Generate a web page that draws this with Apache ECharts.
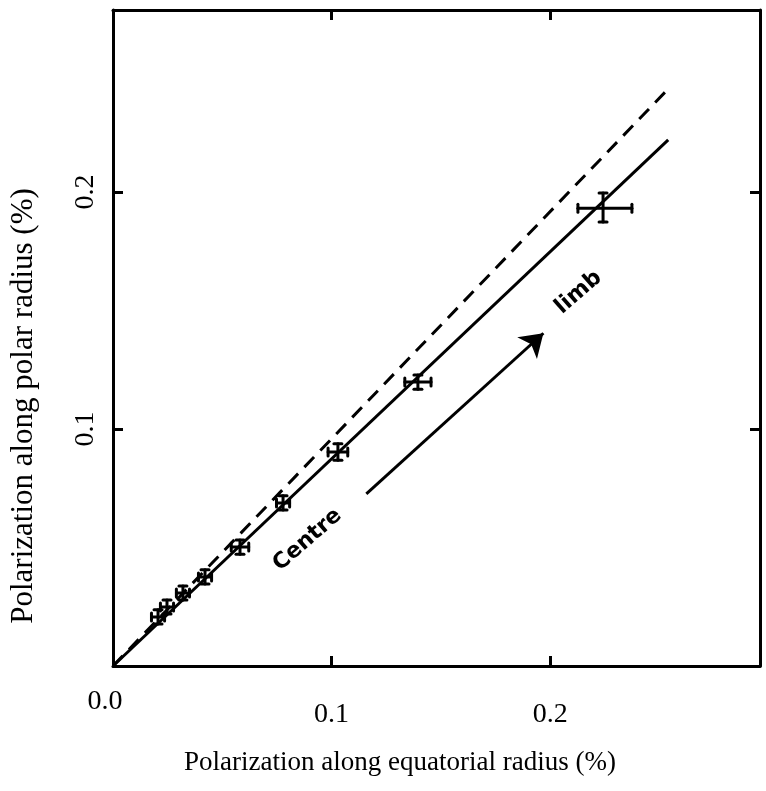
<!DOCTYPE html>
<html>
<head>
<meta charset="utf-8">
<script src="https://cdn.jsdelivr.net/npm/echarts@6/dist/echarts.min.js"></script>
<style>
  html, body { margin: 0; padding: 0; background: #fff; }
  #chart { width: 766px; height: 791px; }
</style>
</head>
<body>
<div id="chart"></div>
<script>
// measured points with error bars
const ptX = [0.0206, 0.0247, 0.0320, 0.0421, 0.0581, 0.0778, 0.1029, 0.1395, 0.2242];
const ptY = [0.0207, 0.0249, 0.0308, 0.0376, 0.0502, 0.0688, 0.0903, 0.1198, 0.1932];
const errXLo = [0.003, 0.003, 0.003, 0.003, 0.004, 0.003, 0.0045, 0.006, 0.0115];
const errXHi = [0.003, 0.003, 0.003, 0.003, 0.004, 0.003, 0.0045, 0.006, 0.0132];
const errYLo = [0.003, 0.003, 0.003, 0.003, 0.003, 0.003, 0.0035, 0.003, 0.0059];
const errYHi = [0.003, 0.003, 0.003, 0.003, 0.003, 0.003, 0.0035, 0.003, 0.0064];

// solid fit line and dashed reference line
const fitX = [0, 0.254];
const fitY = [0, 0.222];
const refX = [0, 0.254];
const refY = [0, 0.2435];

// centre -> limb arrow
const arrowFrom = [0.1159, 0.0726];
const arrowTo = [0.1969, 0.1404];

// annotation labels
const noteText = ['Centre', 'limb'];
const noteX = [0.089, 0.213];
const noteY = [0.0532, 0.1576];

const xTickLabels = ['0.1', '0.2'];
const yTickLabels = ['0.1', '0.2'];

const chart = echarts.init(document.getElementById('chart'));

const serif = 'Liberation Serif';
const ink = '#000';

function tickLabel(list) {
  return function (v) {
    const s = v.toFixed(1);
    return list.indexOf(s) >= 0 ? s : '';
  };
}

const errData = ptX.map((x, i) => [x, ptY[i], x - errXLo[i], x + errXHi[i], ptY[i] - errYLo[i], ptY[i] + errYHi[i]]);

function renderErr(params, api) {
  const x = api.value(0), y = api.value(1);
  const l = api.coord([api.value(2), y]);
  const r = api.coord([api.value(3), y]);
  const b = api.coord([x, api.value(4)]);
  const t = api.coord([x, api.value(5)]);
  const cap = 4;
  const st = { stroke: ink, lineWidth: 3, lineCap: 'round' };
  const seg = (x1, y1, x2, y2) => ({ type: 'line', shape: { x1, y1, x2, y2 }, style: st });
  return {
    type: 'group',
    children: [
      seg(l[0], l[1], r[0], r[1]),
      seg(b[0], b[1], t[0], t[1]),
      seg(l[0], l[1] - cap, l[0], l[1] + cap),
      seg(r[0], r[1] - cap, r[0], r[1] + cap),
      seg(t[0] - cap, t[1], t[0] + cap, t[1]),
      seg(b[0] - cap, b[1], b[0] + cap, b[1])
    ]
  };
}

const axisLine = { show: true, onZero: false, lineStyle: { color: ink, width: 3 } };
const axisTick = { show: true, inside: true, length: 10, lineStyle: { color: ink, width: 3 } };

chart.setOption({
  backgroundColor: '#fff',
  animation: false,
  grid: { left: 113, right: 6, top: 10, bottom: 125, outerBoundsMode: 'none' },
  xAxis: [
    {
      type: 'value', position: 'bottom', min: 0, max: 0.296, interval: 0.1,
      axisLine, axisTick, splitLine: { show: false },
      axisLabel: {
        formatter: tickLabel(xTickLabels), margin: 35, showMaxLabel: false,
        color: ink, fontFamily: serif, fontSize: 28
      }
    },
    {
      type: 'value', position: 'top', min: 0, max: 0.296, interval: 0.1,
      axisLine, axisTick, splitLine: { show: false }, axisLabel: { show: false }
    }
  ],
  yAxis: [
    {
      type: 'value', position: 'left', min: 0, max: 0.2768, interval: 0.1,
      axisLine, axisTick, splitLine: { show: false },
      axisLabel: {
        formatter: tickLabel(yTickLabels), margin: 13, rotate: 90, showMaxLabel: false,
        color: ink, fontFamily: serif, fontSize: 28
      }
    },
    {
      type: 'value', position: 'right', min: 0, max: 0.2768, interval: 0.1,
      axisLine, axisTick, splitLine: { show: false }, axisLabel: { show: false }
    }
  ],
  graphic: [
    {
      type: 'text', x: 105, y: 702,
      style: { text: '0.0', fill: ink, font: '28px "Liberation Serif"', align: 'center', verticalAlign: 'middle' }
    },
    {
      type: 'text', x: 400, y: 763,
      style: { text: 'Polarization along equatorial radius (%)', fill: ink, font: '27px "Liberation Serif"', align: 'center', verticalAlign: 'middle' }
    },
    {
      type: 'text', x: 24, y: 406, rotation: Math.PI / 2,
      style: { text: 'Polarization along polar radius (%)', fill: ink, font: '31px "Liberation Serif"', align: 'center', verticalAlign: 'middle' }
    }
  ],
  series: [
    {
      type: 'line', data: refX.map((x, i) => [x, refY[i]]), symbol: 'none',
      lineStyle: { color: ink, width: 3, type: [14, 9] }
    },
    {
      type: 'line', data: fitX.map((x, i) => [x, fitY[i]]), symbol: 'none',
      lineStyle: { color: ink, width: 3 }
    },
    {
      type: 'custom', renderItem: renderErr, data: errData,
      encode: { x: [0, 2, 3], y: [1, 4, 5] }
    },
    {
      type: 'lines', coordinateSystem: 'cartesian2d',
      symbol: ['none', 'arrow'], symbolSize: [0, 22],
      lineStyle: { color: ink, width: 3, opacity: 1 },
      data: [{ coords: [arrowFrom, arrowTo] }]
    },
    {
      type: 'scatter', symbolSize: 0,
      itemStyle: { opacity: 1 },
      data: noteText.map((t, i) => ({ value: [noteX[i], noteY[i]], name: t })),
      label: {
        show: true, position: 'inside', rotate: 41, formatter: '{b}', opacity: 1,
        color: ink, textBorderWidth: 0, fontFamily: 'DejaVu Sans', fontWeight: 'bold', fontSize: 22
      }
    }
  ]
});
</script>
</body>
</html>
